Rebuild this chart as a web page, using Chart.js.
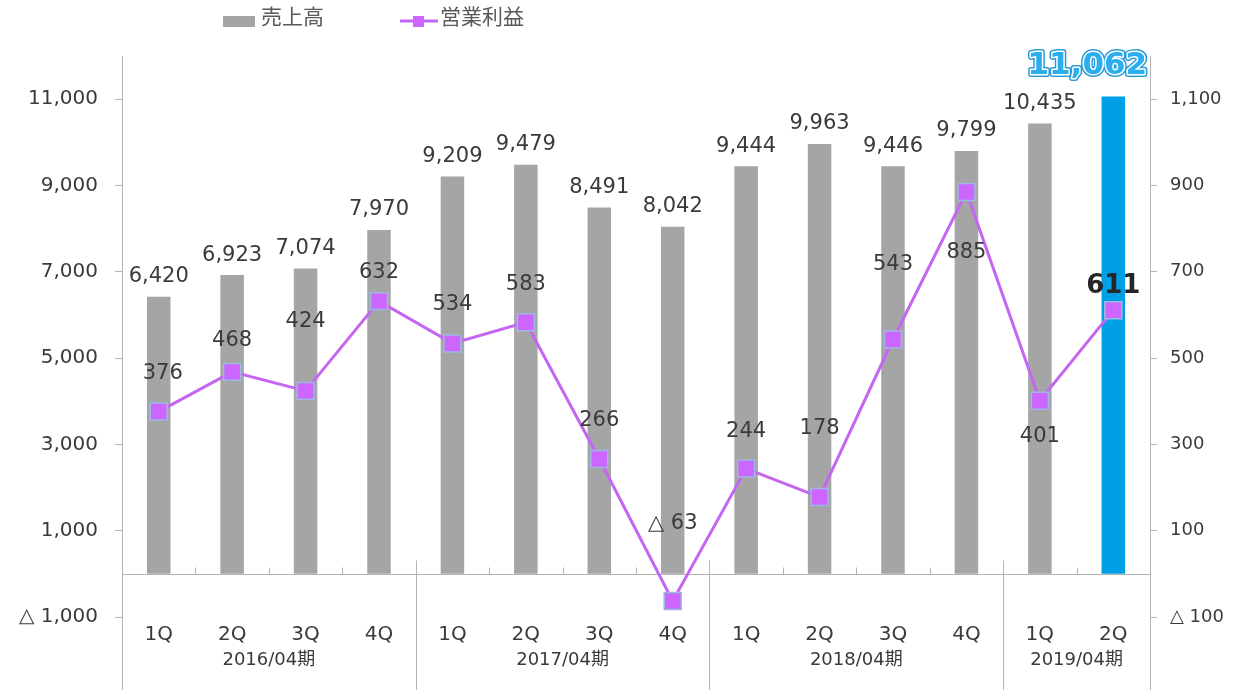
<!DOCTYPE html>
<html>
<head>
<meta charset="utf-8">
<script src="https://cdn.jsdelivr.net/npm/chart.js@4.4.1/dist/chart.umd.min.js"></script>
<style>
    html, body { margin: 0; padding: 0; background: #fff; }
</style>
</head>
<body>
<canvas id="myGraph" width="1238" height="691"></canvas>
<script>
// Data
var quarters = ['1Q', '2Q', '3Q', '4Q', '1Q', '2Q', '3Q', '4Q', '1Q', '2Q', '3Q', '4Q', '1Q', '2Q'];
var fiscalYears = ['2016/04期', '2016/04期', '2016/04期', '2016/04期',
                   '2017/04期', '2017/04期', '2017/04期', '2017/04期',
                   '2018/04期', '2018/04期', '2018/04期', '2018/04期',
                   '2019/04期', '2019/04期'];
var sales = [6420, 6923, 7074, 7970, 9209, 9479, 8491, 8042, 9444, 9963, 9446, 9799, 10435, 11062];
var profit = [376, 468, 424, 632, 534, 583, 266, -63, 244, 178, 543, 885, 401, 611];

// Tick values on both axes
var salesTicks = [-1000, 1000, 3000, 5000, 7000, 9000, 11000];
var profitTicks = [-100, 100, 300, 500, 700, 900, 1100];

// Label placement for the profit values (pixels from the point)
var profitLabelShift = [[4, -38], [0, -31], [0, -69], [0, -29], [0, -39], [0, -38], [0, -39],
                        [0, -77], [0, -37], [0, -68], [0, -75], [0, 61], [0, 36], [0, -24]];

// Colours
var grey = '#a5a5a5';
var blue = '#00a0e6';
var purple = '#c566f2';
var textColor = '#3a3a3a';
var lineColor = '#b4b4b4';
var font = '"DejaVu Sans", "Noto Sans CJK JP", sans-serif';

// Latest bar in blue
var barColors = sales.map((v, i) => i === sales.length - 1 ? blue : grey);

// Japanese style negative numbers
var fmt = (v) => {
    var s = Math.abs(v).toLocaleString('en-US');
    return v < 0 ? '△ ' + s : s;
};

// Lines, labels and legend
var decor = {
    id: 'decor',
    beforeDatasetsDraw(chart) {
        var c = chart.ctx, a = chart.chartArea, x = chart.scales.x, y = chart.scales.y;
        var zeroY = Math.round(y.getPixelForValue(0)) + 0.5;
        var bottom = chart.height - 1;
        c.save();
        c.strokeStyle = lineColor;
        c.lineWidth = 1;
        c.beginPath();
        // zero line
        c.moveTo(a.left, zeroY);
        c.lineTo(a.right, zeroY);
        // side axes
        c.moveTo(Math.round(a.left) + 0.5, a.top);
        c.lineTo(Math.round(a.left) + 0.5, bottom);
        c.moveTo(Math.round(a.right) + 0.5, a.top);
        c.lineTo(Math.round(a.right) + 0.5, bottom);
        // category ticks and year separators
        for (var i = 1; i < quarters.length; i++) {
            var bx = Math.round((x.getPixelForValue(i - 1) + x.getPixelForValue(i)) / 2) + 0.5;
            if (fiscalYears[i] !== fiscalYears[i - 1]) {
                c.moveTo(bx, zeroY - 14);
                c.lineTo(bx, bottom);
            } else {
                c.moveTo(bx, zeroY - 7);
                c.lineTo(bx, zeroY);
            }
        }
        c.stroke();

        // year labels
        c.fillStyle = textColor;
        c.font = '18px ' + font;
        c.textAlign = 'center';
        c.textBaseline = 'middle';
        var start = 0;
        for (var j = 1; j <= fiscalYears.length; j++) {
            if (j === fiscalYears.length || fiscalYears[j] !== fiscalYears[start]) {
                var cx = (x.getPixelForValue(start) + x.getPixelForValue(j - 1)) / 2;
                c.fillText(fiscalYears[start], cx, 660);
                start = j;
            }
        }
        c.restore();
    },
    afterDatasetsDraw(chart) {
        var c = chart.ctx;
        var lineMeta = chart.getDatasetMeta(0);
        var barMeta = chart.getDatasetMeta(1);
        c.save();
        c.textAlign = 'center';
        c.textBaseline = 'middle';

        // sales labels
        barMeta.data.forEach((bar, i) => {
            if (i === sales.length - 1) {
                var tx = bar.x - 26, ty = bar.y - 31;
                c.font = 'bold 31px ' + font;
                c.lineJoin = 'round';
                c.strokeStyle = '#2a9ad8';
                c.lineWidth = 6;
                c.strokeText(fmt(sales[i]), tx, ty);
                c.strokeStyle = '#ffffff';
                c.lineWidth = 3;
                c.strokeText(fmt(sales[i]), tx, ty);
                c.fillStyle = '#2aaeee';
                c.fillText(fmt(sales[i]), tx, ty);
            } else {
                c.font = '21px ' + font;
                c.fillStyle = textColor;
                c.fillText(fmt(sales[i]), bar.x, bar.y - 20);
            }
        });

        // profit labels
        lineMeta.data.forEach((pt, i) => {
            var last = i === profit.length - 1;
            c.font = (last ? 'bold 26px ' : '21px ') + font;
            c.fillStyle = last ? '#262626' : textColor;
            c.fillText(fmt(profit[i]), pt.x + profitLabelShift[i][0], pt.y + profitLabelShift[i][1]);
        });
        c.restore();
    },
    afterDraw(chart) {
        var c = chart.ctx;
        c.save();
        c.font = '21px ' + font;
        c.textBaseline = 'middle';
        c.textAlign = 'left';
        // sales
        c.fillStyle = grey;
        c.fillRect(223, 16, 32, 11);
        c.fillStyle = '#595959';
        c.fillText('売上高', 261, 19);
        // profit
        c.strokeStyle = purple;
        c.lineWidth = 3;
        c.beginPath();
        c.moveTo(400, 21);
        c.lineTo(438, 21);
        c.stroke();
        c.fillStyle = '#cc66ff';
        c.fillRect(413, 16, 11, 11);
        c.fillStyle = '#595959';
        c.fillText('営業利益', 440, 19);
        c.restore();
    }
};

// Get graph
var ctx = document.getElementById('myGraph').getContext('2d');

// Create chart
var chart = new Chart(ctx, {
    type: 'bar',
    data: {
        labels: quarters,
        datasets: [
            {
                type: 'line',
                label: '営業利益',
                data: profit,
                yAxisID: 'y1',
                borderColor: purple,
                borderWidth: 3,
                pointStyle: 'rect',
                pointRadius: 12,
                pointBackgroundColor: '#cc66ff',
                pointBorderColor: '#9db8e2',
                pointBorderWidth: 1.5,
                lineTension: 0,
                order: 0
            },
            {
                label: '売上高',
                data: sales,
                yAxisID: 'y',
                backgroundColor: barColors,
                barPercentage: 0.32,
                categoryPercentage: 1,
                order: 1
            }
        ]
    },
    options: {
        responsive: false,
        animation: false,
        layout: { padding: { top: 56 } },
        plugins: {
            legend: { display: false },
            tooltip: { enabled: false }
        },
        scales: {
            x: {
                grid: { display: false, drawTicks: false },
                border: { display: false },
                ticks: { color: textColor, font: { size: 20, family: font }, padding: 6, maxRotation: 0 },
                afterFit: (s) => { s.height = 74; }
            },
            y: {
                position: 'left',
                min: -1000,
                max: 12000,
                grid: { drawOnChartArea: false, tickLength: 7, color: lineColor },
                border: { display: false },
                ticks: { color: textColor, font: { size: 20, family: font }, padding: 17, callback: fmt },
                afterBuildTicks: (s) => { s.ticks = salesTicks.map(v => ({ value: v })); },
                afterFit: (s) => { s.width = 122; }
            },
            y1: {
                position: 'right',
                min: -100,
                max: 1200,
                grid: { drawOnChartArea: false, tickLength: 7, color: lineColor },
                border: { display: false },
                ticks: { color: textColor, font: { size: 18, family: font }, padding: 13, callback: fmt },
                afterBuildTicks: (s) => { s.ticks = profitTicks.map(v => ({ value: v })); },
                afterFit: (s) => { s.width = 88; }
            }
        }
    },
    plugins: [decor]
});
</script>
</body>
</html>
